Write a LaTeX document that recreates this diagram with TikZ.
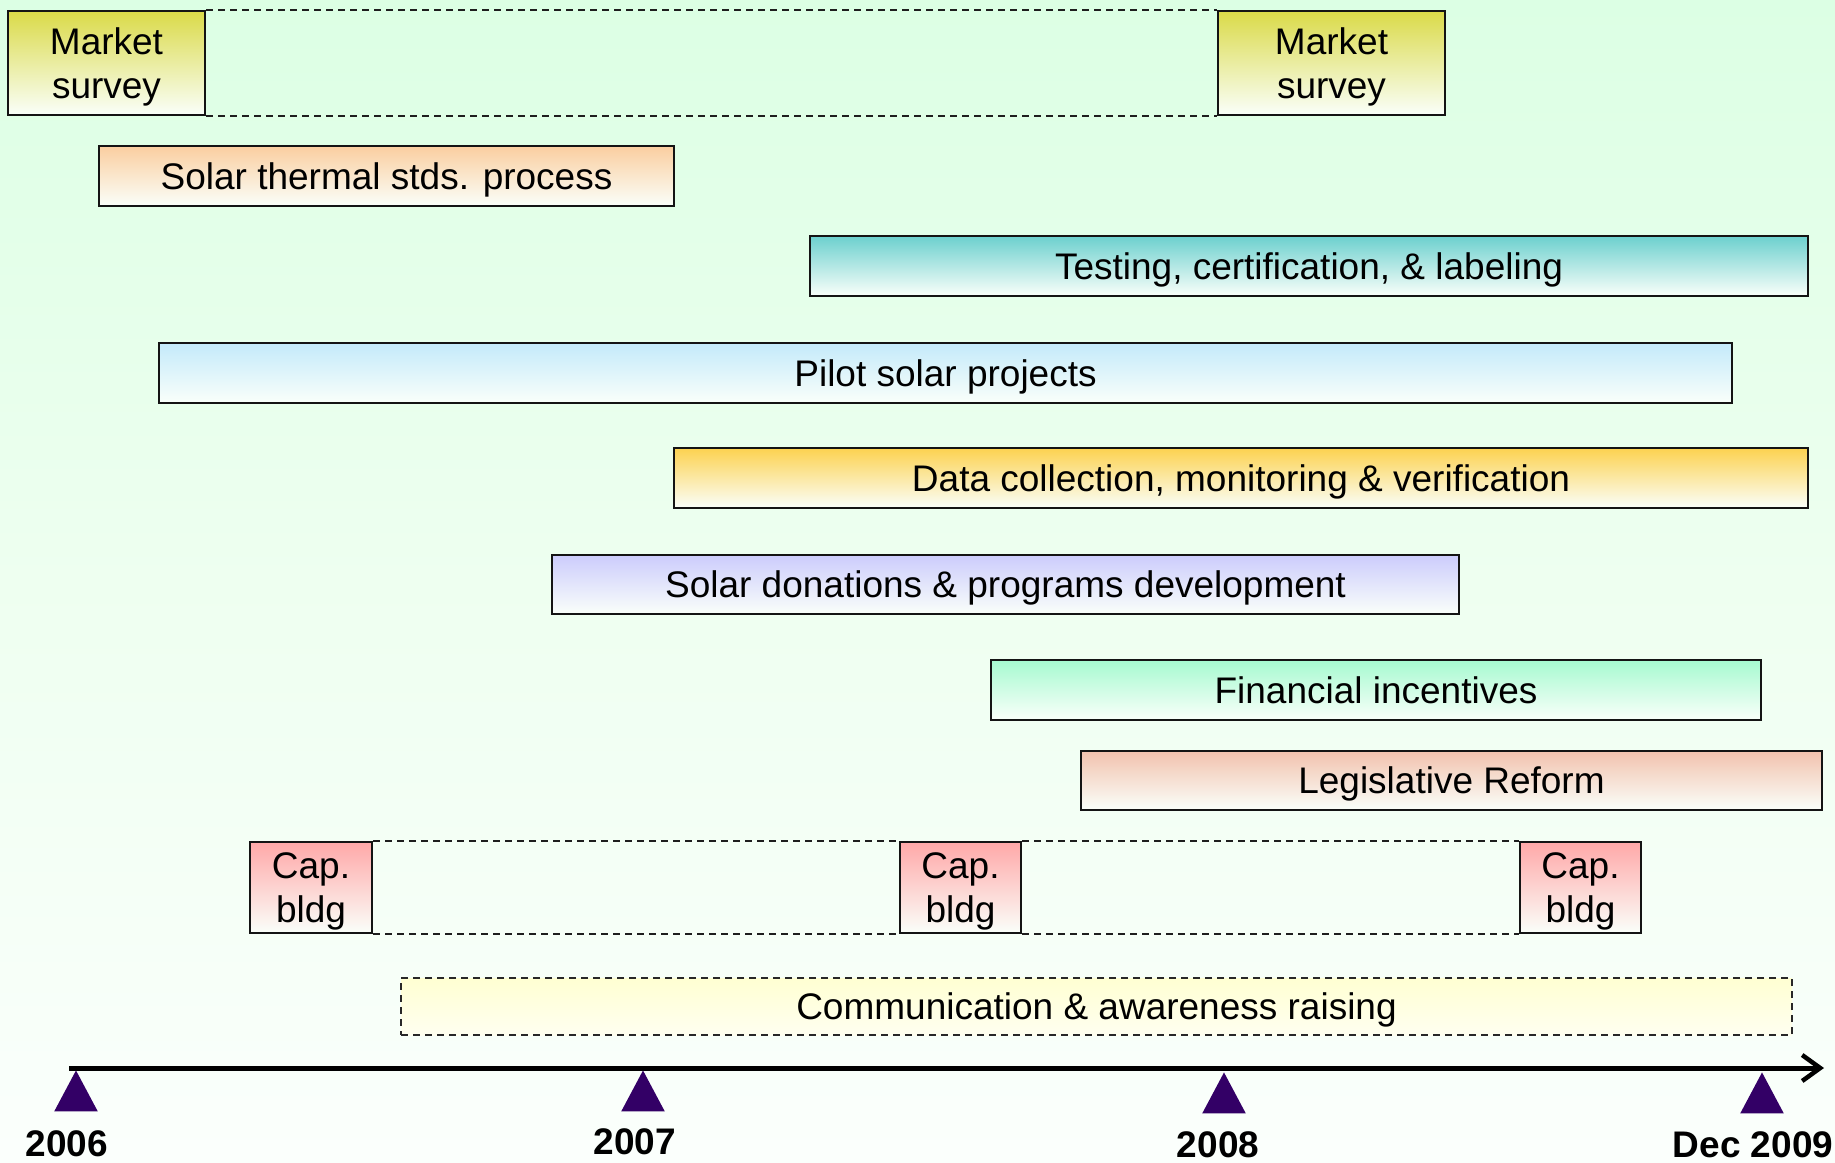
\documentclass[tikz,border=0pt]{standalone}
\usepackage{fontspec}
\setmainfont{Liberation Sans}
\usetikzlibrary{arrows.meta,shapes.geometric}

% colours of the activity bars (top of each gradient)
\definecolor{bgtop}{RGB}{220,255,228}
\definecolor{bgbot}{RGB}{251,255,252}
\definecolor{marketc}{RGB}{218,218,72}
\definecolor{thermalc}{RGB}{250,206,160}
\definecolor{testc}{RGB}{108,208,206}
\definecolor{pilotc}{RGB}{196,234,250}
\definecolor{datac}{RGB}{252,210,80}
\definecolor{donc}{RGB}{204,204,252}
\definecolor{finc}{RGB}{166,250,208}
\definecolor{legc}{RGB}{242,194,174}
\definecolor{capc}{RGB}{255,168,168}
\definecolor{commc}{RGB}{255,255,210}
\definecolor{milestone}{RGB}{51,0,102}
\definecolor{paleend}{RGB}{250,255,250}

\tikzset{
  actbar/.style={draw={rgb,255:red,20;green,20;blue,20}, line width=2.4pt,
    top color=#1, bottom color=paleend, inner sep=0pt, align=center, text depth=0pt,
    font=\fontsize{37}{44.5}\selectfont},
  commbar/.style={draw={rgb,255:red,40;green,40;blue,40}, line width=1.6pt, dash pattern=on 7pt off 5pt,
    top color=commc, bottom color={rgb,255:red,255;green,255;blue,240}, inner sep=0pt, text depth=0pt,
    font=\fontsize{37}{44.5}\selectfont},
  spanline/.style={draw={rgb,255:red,30;green,30;blue,30}, line width=1.6pt, dash pattern=on 7pt off 5pt},
  tick/.style={fill=milestone, isosceles triangle, shape border rotate=90,
    isosceles triangle apex angle=56, minimum height=41pt, inner sep=0pt},
  yearlabel/.style={font=\fontsize{37}{44}\selectfont\bfseries, inner sep=0pt},
}

% activity box given by its corners in picture units
\newcommand\actbox[7]{%
  \pgfmathsetmacro\bxc{(#2+#4)/2}\pgfmathsetmacro\byc{(#3+#5)/2}%
  \pgfmathsetmacro\bxw{#4-#2}\pgfmathsetmacro\byh{#5-#3}%
  \node[#6, minimum width=\bxw pt, minimum height=\byh pt] (#1) at (\bxc,\byc) {#7};}

\begin{document}
\begin{tikzpicture}[x=1pt,y=-1pt]
  \useasboundingbox (0,0) rectangle (1835,1162);
  \shade[top color=bgtop, bottom color=bgbot, middle color={rgb,255:red,238;green,255;blue,240}]
    (0,0) rectangle (1835,1162);

  % market surveys and the span between them
  \actbox{ms1}{8}{11}{205}{115}{actbar=marketc}{Market\\survey}
  \actbox{ms2}{1218}{11}{1445}{115}{actbar=marketc}{Market\\survey}
  \draw[spanline] (ms1.north east) -- (ms2.north west);
  \draw[spanline] (ms1.south east) -- (ms2.south west);

  % activity bars
  \actbox{thermal}{99}{146}{674}{206}{actbar=thermalc}{Solar thermal stds. process}
  \actbox{testing}{810}{236}{1808}{296}{actbar=testc}{Testing, certification, \& labeling}
  \actbox{pilot}{159}{343}{1732}{403}{actbar=pilotc}{Pilot solar projects}
  \actbox{data}{674}{448}{1808}{508}{actbar=datac}{Data collection, monitoring \& verification}
  \actbox{donations}{552}{555}{1459}{614}{actbar=donc}{Solar donations \& programs development}
  \actbox{finance}{991}{660}{1761}{720}{actbar=finc}{Financial incentives}
  \actbox{legis}{1081}{751}{1822}{810}{actbar=legc}{Legislative Reform}

  % capacity building sessions
  \actbox{cap1}{250}{842}{372}{933}{actbar=capc}{Cap.\\bldg}
  \actbox{cap2}{900}{842}{1021}{933}{actbar=capc}{Cap.\\bldg}
  \actbox{cap3}{1520}{842}{1641}{933}{actbar=capc}{Cap.\\bldg}
  \draw[spanline] (cap1.north east) -- (cap2.north west);
  \draw[spanline] (cap1.south east) -- (cap2.south west);
  \draw[spanline] (cap2.north east) -- (cap3.north west);
  \draw[spanline] (cap2.south east) -- (cap3.south west);

  % communication
  \actbox{comm}{401}{978}{1792}{1035}{commbar}{Communication \& awareness raising}

  % time axis
  \coordinate (axstart) at (69,1068);
  \coordinate (axend) at (1824,1068);
  \draw[line width=5pt, -{Straight Barb[length=18pt, width=26pt, line width=4.5pt]}] (axstart) -- (axend);

  % milestones
  \node[tick, anchor=apex] (t2006) at (76,1070) {};
  \node[tick, anchor=apex] (t2007) at (643,1070) {};
  \node[tick, anchor=apex] (t2008) at (1224,1072) {};
  \node[tick, anchor=apex] (t2009) at (1762,1072) {};
  \node[yearlabel] (l2006) at (67,1144) {2006};
  \node[yearlabel] (l2007) at (635,1142) {2007};
  \node[yearlabel] (l2008) at (1218,1145) {2008};
  \node[yearlabel] (l2009) at (1753,1145) {Dec 2009};
\end{tikzpicture}
\end{document}
